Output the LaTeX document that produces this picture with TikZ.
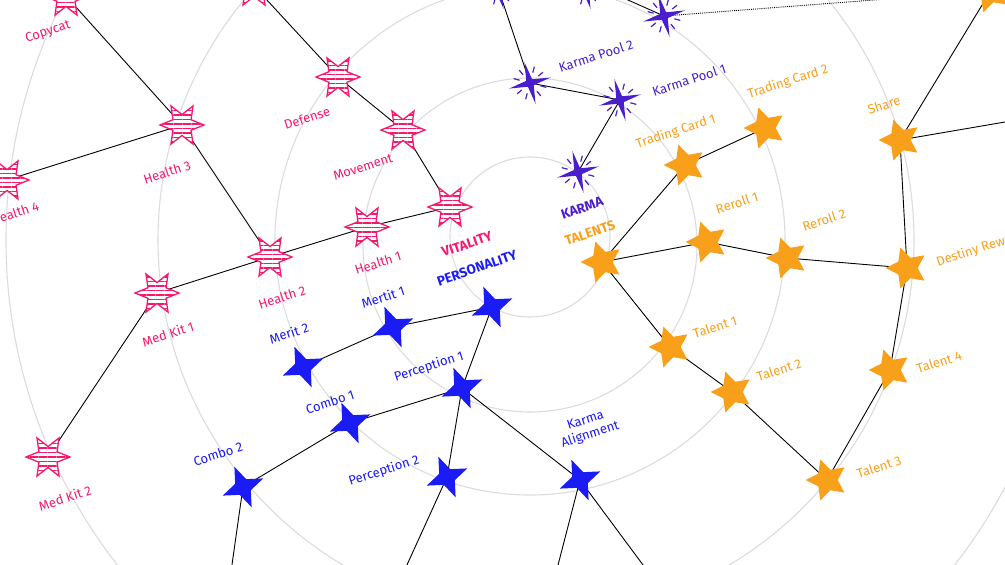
\documentclass[tikz,border=0pt]{standalone}
\usepackage{fontspec}
\setmainfont{Fira Sans}
\usetikzlibrary{shapes.geometric,patterns.meta}
\definecolor{vit}{HTML}{F5196E}
\definecolor{kar}{HTML}{4B1ECD}
\definecolor{pers}{HTML}{1B1BF5}
\definecolor{tal}{HTML}{F9A01B}
\definecolor{ringgray}{HTML}{DCDCDC}
\pgfdeclarelayer{bg}
\pgfsetlayers{bg,main}
\tikzset{
  ring/.style={draw=ringgray, line width=1.1pt},
  link/.style={draw=black, line width=0.9pt},
  dotlink/.style={draw=black, line width=0.9pt, densely dotted},
  vstar/.style={star, star points=6, star point ratio=2.1, minimum size=44pt, inner sep=0pt,
    shape border uses incircle, shape border rotate=30, draw=vit, line width=1.3pt, fill=white,
    postaction={pattern={Lines[angle=0,distance=4.5pt,line width=1.1pt]}, pattern color=vit}},
  kstar/.style={star, star points=4, star point ratio=5, minimum size=43pt, inner sep=0pt,
    shape border uses incircle, shape border rotate=15, fill=kar},
  pstar/.style={star, star points=4, star point ratio=2.6, minimum size=44pt, inner sep=0pt,
    shape border uses incircle, shape border rotate=23, fill=pers},
  tstar/.style={star, star points=5, star point ratio=2.0, minimum size=43pt, inner sep=0pt,
    shape border uses incircle, shape border rotate=18, fill=tal},
  lab/.style={font=\fontsize{13}{15}\selectfont, rotate=18, inner sep=1pt},
  blab/.style={font=\fontsize{13.5}{15}\selectfont\bfseries, rotate=19, inner sep=1pt},
}
\newcommand\sparkle[1]{%
  \foreach \a in {40,75,130,165,220,255,310,345}
    \draw[kar, line width=1.2pt, line cap=round] (#1.center) ++(\a:11pt) -- ++(\a:5.5pt);}
\begin{document}
\begin{tikzpicture}[x=1pt,y=-1pt]
\useasboundingbox (0,0) rectangle (1005,565);
\clip (0,0) rectangle (1005,565);
% rings
\begin{pgfonlayer}{bg}
\fill[white] (0,0) rectangle (1005,565);
\draw[ring] (530,237) circle[radius=80];
\draw[ring] (530,245) circle[radius=167];
\draw[ring] (530,240) circle[radius=255];
\draw[ring] (536,240) circle[radius=378];
\draw[ring] (536,240) circle[radius=530];
\end{pgfonlayer}

% Vitality
\node[vstar] (vit) at (450,207) {};
\node[vstar] (h1) at (367,227) {};
\node[vstar] (mov) at (403,130) {};
\node[vstar] (def) at (338,77) {};
\node[vstar] (vtop) at (254,-14) {};
\node[vstar] (h2) at (270,257) {};
\node[vstar] (h3) at (182,125) {};
\node[vstar] (h4) at (7,180) {};
\node[vstar] (copy) at (66,-4) {};
\node[vstar] (mk1) at (157,293) {};
\node[vstar] (mk2) at (48,457) {};

% Personality
\node[pstar] (per) at (492,307) {};
\node[pstar] (m1) at (393,327) {};
\node[pstar] (m2) at (303,367) {};
\node[pstar] (p1) at (462,388) {};
\node[pstar] (c1) at (350,423) {};
\node[pstar] (c2) at (243,487) {};
\node[pstar] (p2) at (447,477) {};
\node[pstar] (ka) at (580,480) {};
\coordinate (c2d) at (227,600);
\coordinate (p2d) at (391,600);
\coordinate (kad1) at (549,600);
\coordinate (kad2) at (669,600);

% Karma
\node[kstar] (kar) at (578,172) {};
\node[kstar] (kp1) at (620,100) {};
\node[kstar] (kp2) at (530,83) {};
\node[kstar] (kt1) at (498,-12) {};
\node[kstar] (kt2) at (585,-12) {};
\node[kstar] (kt3) at (664,16) {};
\coordinate (ktl) at (610,-8);
\coordinate (kdot) at (1005,-10);
\sparkle{kar}\sparkle{kp1}\sparkle{kp2}\sparkle{kt1}\sparkle{kt2}\sparkle{kt3}

% Talents
\node[tstar] (tal) at (602,262) {};
\node[tstar] (tc1) at (685,165) {};
\node[tstar] (tc2) at (765,128) {};
\node[tstar] (sh) at (900,140) {};
\node[tstar] (ttop) at (990,-8) {};
\node[tstar] (r1) at (707,242) {};
\node[tstar] (r2) at (787,258) {};
\node[tstar] (dr) at (907,268) {};
\node[tstar] (t1) at (670,347) {};
\node[tstar] (t2) at (732,392) {};
\node[tstar] (t3) at (827,480) {};
\node[tstar] (t4) at (890,370) {};
\coordinate (shr) at (1040,116);

% connectors
\begin{pgfonlayer}{bg}
\draw[link] (vit.center) -- (h1.center);
\draw[link] (vit.center) -- (mov.center);
\draw[link] (mov.center) -- (def.center);
\draw[link] (def.center) -- (vtop.center);
\draw[link] (h1.center) -- (h2.center);
\draw[link] (h2.center) -- (h3.center);
\draw[link] (h2.center) -- (mk1.center);
\draw[link] (h3.center) -- (h4.center);
\draw[link] (h3.center) -- (copy.center);
\draw[link] (mk1.center) -- (mk2.center);

\draw[link] (per.center) -- (m1.center);
\draw[link] (m1.center) -- (m2.center);
\draw[link] (per.center) -- (p1.center);
\draw[link] (p1.center) -- (c1.center);
\draw[link] (c1.center) -- (c2.center);
\draw[link] (p1.center) -- (p2.center);
\draw[link] (p1.center) -- (ka.center);
\draw[link] (c2.center) -- (c2d);
\draw[link] (p2.center) -- (p2d);
\draw[link] (ka.center) -- (kad1);
\draw[link] (ka.center) -- (kad2);

\draw[link] (kar.center) -- (kp1.center);
\draw[link] (kp1.center) -- (kp2.center);
\draw[link] (kp2.center) -- (kt1.center);
\draw[link] (kt3.center) -- (ktl);
\draw[dotlink] (kt3.center) -- (kdot);

\draw[link] (tal.center) -- (tc1.center);
\draw[link] (tc1.center) -- (tc2.center);
\draw[link] (tal.center) -- (r1.center);
\draw[link] (r1.center) -- (r2.center);
\draw[link] (r2.center) -- (dr.center);
\draw[link] (dr.center) -- (sh.center);
\draw[link] (sh.center) -- (ttop.center);
\draw[link] (sh.center) -- (shr);
\draw[link] (dr.center) -- (t4.center);
\draw[link] (t4.center) -- (t3.center);
\draw[link] (t3.center) -- (t2.center);
\draw[link] (t2.center) -- (t1.center);
\draw[link] (t1.center) -- (tal.center);
\end{pgfonlayer}

% labels
\begin{scope}[text=vit]
\node[lab] (lcopy) at (48,32) {Copycat};
\node[lab] (ldef) at (307,118) {Defense};
\node[lab] (lh3) at (167,172) {Health 3};
\node[lab] (lh4) at (15,213) {Health 4};
\node[lab] (lh2) at (282,297) {Health 2};
\node[lab] (lmk1) at (168,334) {Med Kit 1};
\node[lab] (lmk2) at (65,498) {Med Kit 2};
\node[lab] (lmov) at (363,167) {Movement};
\node[lab] (lh1) at (378,263) {Health 1};
\node[blab] (lvit) at (467,244) {VITALITY};
\end{scope}
\begin{scope}[text=pers]
\node[blab] (lper) at (477,268) {PERSONALITY};
\node[lab] (lm1) at (383,297) {Mertit 1};
\node[lab] (lm2) at (289,333) {Merit 2};
\node[lab] (lc1) at (330,402) {Combo 1};
\node[lab] (lp1) at (429,367) {Perception 1};
\node[lab] (lp2) at (384,471) {Perception 2};
\node[lab] (lc2) at (218,454) {Combo 2};
\node[lab, align=center] (lka) at (588,428) {Karma\\Alignment};
\end{scope}
\begin{scope}[text=kar]
\node[blab] (lkar) at (582,208) {KARMA};
\node[lab] (lkp2) at (596,56) {Karma Pool 2};
\node[lab] (lkp1) at (689,80) {Karma Pool 1};
\end{scope}
\begin{scope}[text=tal]
\node[blab] (ltal) at (590,233) {TALENTS};
\node[lab] (ltc1) at (676,132) {Trading Card 1};
\node[lab] (ltc2) at (788,82) {Trading Card 2};
\node[lab] (lsh) at (884,105) {Share};
\node[lab] (lr1) at (737,203) {Reroll 1};
\node[lab] (lr2) at (824,220) {Reroll 2};
\node[lab] (ldr) at (980,249) {Destiny Reward};
\node[lab] (lt1) at (715,327) {Talent 1};
\node[lab] (lt2) at (779,370) {Talent 2};
\node[lab] (lt3) at (879,467) {Talent 3};
\node[lab] (lt4) at (939,362) {Talent 4};
\end{scope}
\end{tikzpicture}
\end{document}
